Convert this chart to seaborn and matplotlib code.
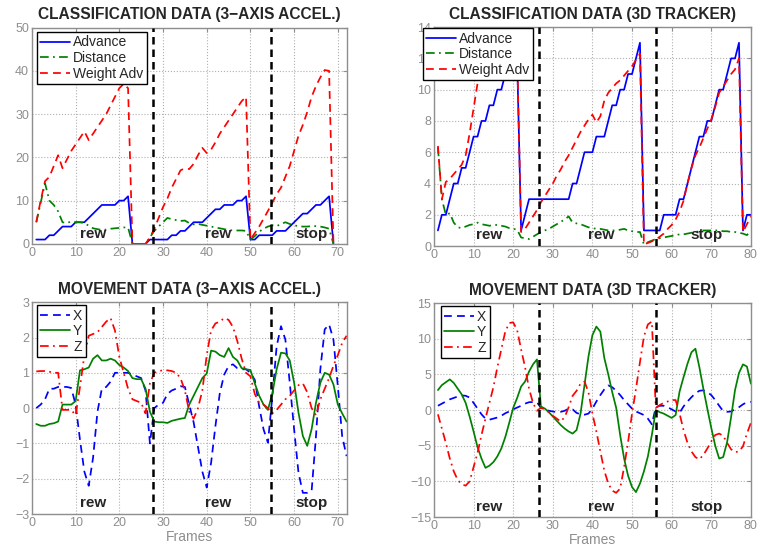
import numpy as np
import pandas as pd
import seaborn as sns
import matplotlib
matplotlib.use("Agg")
import matplotlib.pyplot as plt

# ---- classification data, 3-axis accelerometer (frames 1..69)
adv_acc = [1, 1, 1, 2, 2, 3, 4, 4, 4, 5,
           5, 5, 6, 7, 8, 9, 9, 9, 9, 10,
           10, 11, 0, 0, 0, 0, 1, 1, 1, 1,
           1, 2, 2, 3, 3, 4, 5, 5, 5, 6,
           7, 8, 8, 9, 9, 9, 10, 10, 11, 1,
           1, 2, 2, 2, 2, 3, 3, 3, 4, 5,
           6, 7, 7, 8, 9, 9, 10, 11, 0]
dist_acc = [5, 9.5, 14, 10, 9, 7.5, 5, 4.8, 5.2, 5,
            5, 4.8, 4.2, 3.6, 3.4, 3.2, 3.3, 3.5, 3.6, 3.7,
            3.8, 3.8, 0, 0, 0, 0, 1.5, 3, 4, 5,
            6, 5.7, 5.5, 5.3, 5.4, 4.8, 4.5, 4.6, 4.4, 4.2,
            4.0, 3.8, 3.6, 3.4, 3.2, 3.1, 3.1, 3.1, 3.0, 1.0,
            1.8, 2.8, 3.5, 4.0, 4.3, 4.1, 4.6, 5.0, 4.6, 4.3,
            4.1, 4.0, 4.0, 4.1, 4.1, 4.0, 3.8, 3.5, 0]
wadv_acc = [5, 10, 14.5, 15.5, 18, 20.5, 17.5, 19.5, 21.5, 23,
            24.5, 26, 24, 25.5, 27, 28.5, 30, 32, 34, 36,
            37, 36, 0, 0, 0, 0, 1.5, 3.5, 6, 8.5,
            10.5, 13, 15, 17, 17.5, 17.3, 18.5, 20.5, 22.2, 21,
            21.8, 23.5, 25.5, 27, 28.5, 30, 31.5, 33, 34, 1,
            2.5, 4, 5.8, 7.6, 9.5, 11.5, 13, 15.5, 18, 21.5,
            25, 27.5, 30.5, 34, 36.5, 38.5, 40.2, 40, 0]

# ---- classification data, 3D tracker (frames 1..80)
adv_trk = [1, 2, 2, 3, 4, 4, 5, 5, 6, 7,
           7, 8, 8, 9, 9, 10, 10, 11, 11, 12,
           12, 1, 2, 3, 3, 3, 3, 3, 3, 3,
           3, 3, 3, 3, 4, 4, 5, 6, 6, 6,
           7, 7, 7, 8, 9, 9, 10, 10, 11, 11,
           12, 13, 1, 1, 1, 1, 1, 2, 2, 2,
           2, 3, 3, 4, 5, 6, 7, 7, 8, 8,
           9, 10, 10, 11, 12, 12, 13, 1, 2, 2]
dist_trk = [6.3, 3.0, 2.0, 2.1, 1.5, 1.2, 1.15, 1.25, 1.35, 1.4,
            1.5, 1.4, 1.35, 1.3, 1.35, 1.35, 1.3, 1.25, 1.15, 1.1,
            1.05, 0.55, 0.5, 0.45, 0.6, 0.75, 0.9, 1.0, 1.1, 1.25,
            1.4, 1.55, 1.7, 1.9, 1.5, 1.45, 1.4, 1.3, 1.2, 1.15,
            1.1, 1.1, 1.05, 1.0, 1.0, 1.0, 1.05, 1.1, 1.0, 0.95,
            0.9, 0.9, 0.1, 0.25, 0.35, 0.45, 0.5, 0.55, 0.6, 0.65,
            0.7, 0.75, 0.75, 0.8, 0.85, 0.9, 0.95, 1.0, 1.0, 1.0,
            1.0, 1.0, 0.95, 0.95, 0.9, 0.9, 0.85, 0.8, 0.7, 1.0]
wadv_trk = [6.4, 3.0, 4.1, 4.3, 4.6, 4.9, 5.2, 5.8, 7.2, 8.8,
            10.4, 11.2, 11.5, 11.7, 11.8, 12.0, 12.0, 12.2, 12.2, 12.3,
            12.3, 0.9, 1.1, 1.5, 1.9, 2.3, 2.8, 3.2, 3.6, 4.0,
            4.5, 4.9, 5.4, 5.8, 6.3, 6.8, 7.3, 7.7, 8.1, 8.4,
            7.9, 8.3, 9.3, 9.8, 10.1, 10.4, 10.6, 10.9, 11.2, 11.5,
            11.9, 12.3, 0.1, 0.2, 0.3, 0.4, 0.6, 0.8, 1.1, 1.35,
            1.7, 2.2, 2.9, 4.0, 5.0, 5.8, 6.3, 6.9, 7.5, 8.1,
            8.9, 9.8, 10.2, 10.6, 11.0, 11.3, 12.0, 0.9, 1.4, 1.9]

# ---- movement data, 3-axis accelerometer (frames 1..72)
x_acc = [0.0, 0.1, 0.25, 0.55, 0.55, 0.6, 0.6, 0.6, 0.57, 0.1,
         -0.9, -1.8, -2.2, -1.4, -0.1, 0.55, 0.6, 0.75, 1.0, 1.0,
         1.0, 1.0, 0.95, 0.9, 0.85, 0.5, -1.0, 0.0, 0.1, 0.15,
         0.4, 0.5, 0.55, 0.62, 0.6, 0.1, -0.4, -1.1, -1.8, -2.25,
         -1.55, -0.5, 0.43, 0.95, 1.19, 1.24, 1.13, 1.1, 1.1, 1.0,
         0.8, 0.05, -0.6, -0.98, 0.3, 1.75, 2.32, 1.94, 0.72, -0.6,
         -1.83, -2.4, -2.4, -2.35, -0.8, 1.1, 2.23, 2.37, 1.94, 0.62,
         -0.8, -1.36]
y_acc = [-0.45, -0.5, -0.5, -0.45, -0.43, -0.38, 0.1, 0.1, 0.1, 0.2,
         1.07, 1.1, 1.15, 1.4, 1.5, 1.35, 1.35, 1.4, 1.35, 1.22,
         1.15, 1.05, 0.85, 0.82, 0.82, 0.55, -0.1, -0.38, -0.4, -0.4,
         -0.42, -0.36, -0.33, -0.3, -0.28, 0.1, 0.35, 0.6, 0.85, 0.98,
         1.63, 1.6, 1.5, 1.45, 1.7, 1.45, 1.35, 1.13, 1.1, 1.08,
         0.7, 0.35, 0.1, -0.05, 0.4, 1.1, 1.57, 1.55, 1.35, 0.72,
         -0.13, -0.79, -1.07, -0.6, 0.15, 0.72, 1.0, 0.95, 0.67, 0.1,
         -0.15, -0.38]
z_acc = [1.04, 1.05, 1.05, 1.03, 1.0, 1.0, -0.05, -0.05, -0.05, -0.2,
         0.6, 1.5, 2.05, 2.1, 2.15, 2.3, 2.45, 2.55, 2.2, 1.45,
         1.0, 0.55, 0.25, 0.2, 0.15, -0.15, 0.7, 1.0, 1.05, 1.07,
         1.07, 1.05, 1.0, 0.85, 0.5, -0.1, -0.3, 0.0, 0.5, 1.5,
         2.2, 2.4, 2.45, 2.55, 2.5, 2.3, 1.9, 1.4, 1.0, 0.9,
         0.4, 0.15, 0.1, 0.0, -0.15, -0.05, 0.1, 0.25, 0.35, 0.5,
         0.65, 0.7, 0.45, 0.0, -0.2, 0.25, 0.55, 0.85, 1.2, 1.5,
         1.85, 2.05]

# ---- movement data, 3D tracker (frames 1..80)
x_trk = [0.6, 0.9, 1.2, 1.5, 1.7, 1.9, 2.05, 2.0, 1.75, 1.0,
         0.2, -0.6, -1.2, -1.35, -1.2, -1.05, -0.8, -0.45, -0.2, 0.1,
         0.35, 0.6, 0.9, 1.1, 1.12, 1.1, 0.3, 0.1, -0.1, -0.2,
         -0.3, -0.25, -0.1, 0.2, 0.1, -0.4, -0.6, -0.65, -0.5, 0.2,
         1.2, 2.1, 2.9, 3.45, 3.2, 2.7, 2.1, 1.4, 0.8, 0.2,
         -0.2, -0.45, -0.7, -1.2, -2.0, 0.4, 0.6, 0.6, 0.4, 0.1,
         -0.2, -0.37, 0.5, 1.2, 1.8, 2.35, 2.7, 2.77, 2.5, 2.1,
         1.4, 0.6, -0.14, -0.25, -0.2, 0.1, 0.4, 0.8, 1.1, 1.15]
y_trk = [2.8, 3.5, 3.9, 4.3, 3.8, 3.0, 2.2, 1.0, -0.9, -3.0,
         -5.2, -6.8, -8.1, -7.8, -7.3, -6.5, -5.4, -3.8, -1.8, 0.3,
         1.7, 3.3, 4.0, 5.4, 6.4, 7.1, 0.5, 0.2, -0.3, -0.9,
         -1.5, -2.1, -2.6, -3.0, -3.3, -2.8, -0.5, 3.5, 7.5, 10.5,
         11.7, 11.0, 7.3, 5.0, 2.5, 0.3, -3.5, -6.8, -9.2, -10.8,
         -11.5, -10.3, -8.6, -6.5, -3.5, 0.0, -0.3, -0.5, -0.8, -1.1,
         -0.7, 2.6, 4.6, 6.5, 8.1, 8.6, 6.0, 3.0, 0.2, -2.5,
         -5.0, -6.8, -6.6, -4.5, -1.0, 2.8, 5.2, 6.4, 6.1, 3.7]
z_trk = [-0.6, -2.6, -4.6, -6.8, -8.6, -9.8, -10.4, -10.6, -10.0, -8.0,
         -6.0, -3.5, -1.2, 1.0, 3.2, 6.0, 8.5, 11.0, 12.2, 12.3,
         11.2, 8.5, 6.0, 3.0, 1.0, -0.1, 0.33, 0.1, -0.3, -0.8,
         -1.2, -1.6, -1.0, 0.4, 2.0, 2.7, 3.7, 4.0, 2.5, -0.5,
         -3.0, -5.8, -8.5, -10.3, -11.3, -11.6, -11.0, -8.0, -4.5, -0.5,
         3.0, 6.7, 10.3, 12.0, 12.4, 0.3, 0.7, 1.0, 1.2, 1.4,
         1.4, -0.5, -2.8, -4.6, -5.8, -6.6, -6.9, -6.3, -5.4, -4.4,
         -3.5, -3.3, -3.6, -4.6, -5.5, -5.9, -5.8, -5.1, -3.3, -1.8]

# segment boundaries and gesture labels
bounds_acc = [27.8, 54.8]
bounds_trk = [26.4, 56.1]
gestures = ["rew", "rew", "stop"]
gest_x_acc = [14.1, 42.7, 64.0]
gest_x_trk = [14.0, 42.2, 68.7]

sns.set_style("white")
plt.rcParams['font.family'] = ['Liberation Sans', 'DejaVu Sans']

GREY = '#8e8e8e'
BLUE, GREEN, RED = '#0000ff', '#008000', '#ff0000'
DASH = (0, (4.5, 3))
DASHDOT = (0, (5, 2.5, 1, 2.5))

fig = plt.figure(figsize=(7.6, 5.53), dpi=100)
ax_tl = fig.add_axes([0.042, 0.559, 0.414, 0.391])
ax_tr = fig.add_axes([0.571, 0.555, 0.417, 0.396])
ax_bl = fig.add_axes([0.042, 0.0705, 0.414, 0.383])
ax_br = fig.add_axes([0.571, 0.065, 0.417, 0.387])


def draw(ax, series, names, colors, styles):
    for vals, name, c, ls in zip(series, names, colors, styles):
        frames = np.arange(1, len(vals) + 1)
        df = pd.DataFrame({"frame": frames, "value": vals})
        sns.lineplot(data=df, x="frame", y="value", ax=ax, color=c,
                     linestyle=ls, lw=1.25, label=name, estimator=None)


def style(ax, xmax, ylim, yticks, title, bounds, gx, gy, legpos, xlabel=False):
    ax.set_xlim(0, xmax)
    ax.set_ylim(*ylim)
    ax.set_xticks(np.arange(0, xmax + 1, 10))
    ax.set_yticks(yticks)
    ax.grid(True, ls=':', color='#b0b0b0', lw=0.8)
    for s in ax.spines.values():
        s.set_color(GREY)
        s.set_linewidth(1.0)
    ax.tick_params(direction='in', length=3, colors=GREY, labelsize=9,
                   top=True, right=True, pad=2)
    ax.set_xlabel("Frames" if xlabel else "", color=GREY, fontsize=10, labelpad=1)
    ax.set_ylabel("")
    ax.set_title(title, fontweight='bold', fontsize=11.2, pad=6)
    for b in bounds:
        ax.axvline(b, color='black', ls=(0, (3, 2)), lw=1.8, zorder=4)
    for lab, x in zip(gestures, gx):
        ax.text(x, gy, lab, fontweight='bold', fontsize=11, ha='center', va='center')
    leg = ax.legend(loc='upper left', bbox_to_anchor=legpos, fontsize=10,
                    frameon=True, fancybox=False, framealpha=1, edgecolor='black',
                    handlelength=2.1, handletextpad=0.25, borderpad=0.25,
                    labelspacing=0.12, borderaxespad=0)
    leg.get_frame().set_linewidth(1.0)
    leg.set_zorder(10)


class_names = ["Advance", "Distance", "Weight Adv"]
class_colors = [BLUE, GREEN, RED]
class_styles = ['-', DASHDOT, DASH]
move_names = ["X", "Y", "Z"]
move_colors = [BLUE, GREEN, RED]
move_styles = [DASH, '-', DASHDOT]

draw(ax_tl, [adv_acc, dist_acc, wadv_acc], class_names, class_colors, class_styles)
style(ax_tl, 72, (0, 50), np.arange(0, 51, 10), "CLASSIFICATION DATA (3\u2212AXIS ACCEL.)",
      bounds_acc, gest_x_acc, 2.2, (0.016, 0.98))

draw(ax_tr, [adv_trk, dist_trk, wadv_trk], class_names, class_colors, class_styles)
style(ax_tr, 80, (0, 14), np.arange(0, 15, 2), "CLASSIFICATION DATA (3D TRACKER)",
      bounds_trk, gest_x_trk, 0.7, (-0.035, 0.995))

draw(ax_bl, [x_acc, y_acc, z_acc], move_names, move_colors, move_styles)
style(ax_bl, 72, (-3, 3), np.arange(-3, 4, 1), "MOVEMENT DATA (3\u2212AXIS ACCEL.)",
      bounds_acc, gest_x_acc, -2.68, (0.016, 0.986), xlabel=True)

draw(ax_br, [x_trk, y_trk, z_trk], move_names, move_colors, move_styles)
style(ax_br, 80, (-15, 15), np.arange(-15, 16, 5), "MOVEMENT DATA (3D TRACKER)",
      bounds_trk, gest_x_trk, -13.6, (0.022, 0.986), xlabel=True)

fig.savefig("out.png", dpi=100)
